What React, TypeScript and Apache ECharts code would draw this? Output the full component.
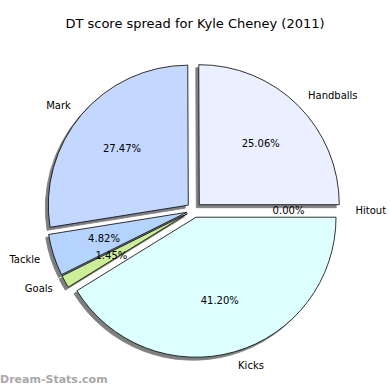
import React, { useEffect, useRef } from "react";
import * as echarts from "echarts";

const categories = ["Handballs", "Mark", "Tackle", "Goals", "Kicks", "Hitout"];
const values = [312, 342, 60, 18, 513, 0];
const colors = ["#EAF0FF", "#C4D7FF", "#B5D3FF", "#CCEE99", "#DDFFFF", "#F0E0FF"];
const titleText = "DT score spread for Kyle Cheney (2011)";
const watermark = "Dream-Stats.com";

const FONT = "DejaVu Sans";

export default function App() {
  const ref = useRef<HTMLDivElement>(null);
  useEffect(() => {
    document.body.style.margin = "0";
    if (!ref.current) return;
    const chart = echarts.init(ref.current, undefined, { renderer: "svg" });
    const total = values.reduce((a, b) => a + b, 0);
    const center = [194, 210];
    const R = 140;
    const offset = 7.5;
    const mainData = categories.map((name, i) => ({
      name,
      value: values[i],
      selected: true,
      itemStyle: { color: colors[i] },
    }));
    const labelData = categories.map((name, i) => ({
      name,
      value: values[i],
      selected: true,
    }));
    chart.setOption({
      animation: false,
      title: {
        text: titleText,
        left: "center",
        top: 12,
        textStyle: { fontFamily: FONT, fontSize: 13, fontWeight: "normal", color: "#000" },
      },
      graphic: [
        {
          type: "text",
          left: 0,
          top: 374,
          style: {
            text: watermark,
            fontFamily: FONT,
            fontSize: 11,
            fontWeight: "bold",
            fill: "#a8a8a8",
          },
        },
      ],
      series: [
        {
          type: "pie",
          center,
          radius: [0, R],
          startAngle: 0,
          clockwise: false,
          selectedMode: "multiple",
          selectedOffset: offset,
          avoidLabelOverlap: false,
          silent: true,
          itemStyle: {
            borderColor: "#000",
            borderWidth: 0.8,
            shadowColor: "rgba(0,0,0,0.5)",
            shadowBlur: 1,
            shadowOffsetX: -3,
            shadowOffsetY: 3,
          },
          label: {
            show: true,
            position: "outside",
            formatter: "{b}",
            fontFamily: FONT,
            fontSize: 10,
            color: "#000",
            distanceToLabelLine: 0,
            overflow: "none",
          },
          labelLine: { show: false, length: 14, length2: 0 },
          emphasis: { disabled: true },
          data: mainData,
        },
        {
          type: "pie",
          center,
          radius: [R * 0.2, R],
          startAngle: 0,
          clockwise: false,
          selectedMode: "multiple",
          selectedOffset: offset,
          avoidLabelOverlap: false,
          silent: true,
          itemStyle: { color: "rgba(0,0,0,0)", borderWidth: 0 },
          label: {
            show: true,
            position: "inside",
            formatter: (p: any) => ((p.value / total) * 100).toFixed(2) + "%",
            fontFamily: FONT,
            fontSize: 10,
            color: "#000",
            overflow: "none",
          },
          labelLine: { show: false },
          emphasis: { disabled: true },
          data: labelData,
        },
      ],
    });
    return () => chart.dispose();
  }, []);
  return <div ref={ref} style={{ width: 390, height: 390 }} />;
}
